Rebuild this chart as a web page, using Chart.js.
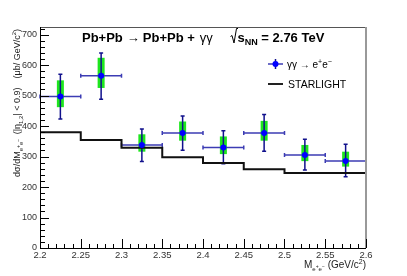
<!DOCTYPE html>
<html>
<head>
<meta charset="utf-8">
<script src="https://cdn.jsdelivr.net/npm/chart.js@4.4.1/dist/chart.umd.min.js"></script>
<style>
  body { margin: 0; background: #fff; }
  canvas { display: block; }
</style>
</head>
<body>
<canvas id="xsChart" width="407" height="276"></canvas>
<script>
// bins of invariant mass (GeV/c^2)
const binEdges = [2.2, 2.25, 2.3, 2.35, 2.4, 2.45, 2.5, 2.55, 2.6];
const massCenters = [2.225, 2.275, 2.325, 2.375, 2.425, 2.475, 2.525, 2.575];
const binHalfWidth = [0.025, 0.025, 0.025, 0.025, 0.025, 0.025, 0.025, 0.025];

// measured cross section (ub / GeV/c^2)
const xsData = [497, 565, 338, 377, 330, 377, 305, 285];
const statUp = [73, 75, 52, 56, 55, 61, 52, 55];
const statDown = [74, 77, 54, 56, 54, 60, 49, 51];
const sysUp = [53, 59, 35, 38, 36, 40, 33, 31];
const sysDown = [35, 40, 22, 25, 22, 25, 20, 18];

// STARLIGHT prediction per bin
const starlight = [410, 380, 354, 329, 298, 279, 258, 246];

const FONT = "'Liberation Sans', Arial, sans-serif";

// draw a list of text pieces one after another (sub/superscripts via dy)
function drawRich(ctx, segs, x, y, align) {
  let total = 0;
  segs.forEach((s) => {
    ctx.font = s.font;
    total += (s.gap || 0) + ctx.measureText(s.t).width;
  });
  let cx = align === "right" ? x - total : x;
  segs.forEach((s) => {
    ctx.font = s.font;
    cx += s.gap || 0;
    ctx.fillText(s.t, cx, y + (s.dy || 0));
    cx += ctx.measureText(s.t).width;
  });
  return total;
}

const rootStyle = {
  id: "rootStyle",
  beforeDatasetsDraw(chart) {
    const { ctx } = chart;
    const x = chart.scales.x;
    const y = chart.scales.y;
    ctx.save();
    // systematic boxes
    ctx.fillStyle = "#1ee61e";
    massCenters.forEach((m, i) => {
      const px = x.getPixelForValue(m);
      const top = y.getPixelForValue(xsData[i] + sysUp[i]);
      const bot = y.getPixelForValue(xsData[i] - sysDown[i]);
      ctx.fillRect(px - 3.5, top, 7, bot - top);
    });
    // horizontal bin width bars
    ctx.strokeStyle = "#3c3cb4";
    ctx.lineWidth = 1.5;
    massCenters.forEach((m, i) => {
      const py = y.getPixelForValue(xsData[i]);
      const l = x.getPixelForValue(m - binHalfWidth[i]);
      const r = x.getPixelForValue(m + binHalfWidth[i]);
      ctx.beginPath();
      ctx.moveTo(l, py); ctx.lineTo(r, py);
      ctx.moveTo(l, py - 2); ctx.lineTo(l, py + 2);
      ctx.moveTo(r, py - 2); ctx.lineTo(r, py + 2);
      ctx.stroke();
    });
    // statistical errors
    ctx.strokeStyle = "#10108c";
    massCenters.forEach((m, i) => {
      const px = x.getPixelForValue(m);
      const top = y.getPixelForValue(xsData[i] + statUp[i]);
      const bot = y.getPixelForValue(xsData[i] - statDown[i]);
      ctx.beginPath();
      ctx.moveTo(px, top); ctx.lineTo(px, bot);
      ctx.moveTo(px - 2, top); ctx.lineTo(px + 2, top);
      ctx.moveTo(px - 2, bot); ctx.lineTo(px + 2, bot);
      ctx.stroke();
    });
    ctx.restore();
  },
  afterDraw(chart) {
    const { ctx, chartArea: a } = chart;
    const x = chart.scales.x;
    const y = chart.scales.y;
    ctx.save();
    // frame
    ctx.strokeStyle = "#555";
    ctx.lineWidth = 1;
    ctx.beginPath();
    ctx.moveTo(a.left, a.top + 0.5); ctx.lineTo(a.right, a.top + 0.5);
    ctx.stroke();
    ctx.strokeStyle = "#999";
    ctx.lineWidth = 2;
    ctx.beginPath();
    ctx.moveTo(a.right, a.top); ctx.lineTo(a.right, a.bottom);
    ctx.stroke();
    ctx.strokeStyle = "#000";
    ctx.lineWidth = 1;
    ctx.beginPath();
    ctx.moveTo(a.left + 0.5, a.top); ctx.lineTo(a.left + 0.5, a.bottom);
    ctx.moveTo(a.left, a.bottom + 0.5); ctx.lineTo(a.right, a.bottom + 0.5);
    // y ticks, inside
    for (let v = 0; v <= y.max; v += 20) {
      const py = Math.round(y.getPixelForValue(v)) + 0.5;
      const len = v % 100 === 0 ? 9 : 5;
      ctx.moveTo(a.left, py); ctx.lineTo(a.left + len, py);
    }
    // x ticks, inside
    for (let k = 0; k <= 40; k++) {
      const px = Math.round(x.getPixelForValue(2.2 + k * 0.01)) + 0.5;
      const len = k % 5 === 0 ? 9 : 4;
      ctx.moveTo(px, a.bottom); ctx.lineTo(px, a.bottom - len);
    }
    ctx.stroke();

    ctx.fillStyle = "#000";
    ctx.textBaseline = "alphabetic";
    // title
    const b13 = "bold 13px " + FONT;
    const n13 = "13px " + FONT;
    drawRich(ctx, [
      { t: "Pb+Pb", font: b13 },
      { t: "\u2192", font: n13, gap: 4 },
      { t: "Pb+Pb +", font: b13, gap: 3 },
      { t: "\u03b3\u03b3", font: n13, gap: 5 },
    ], 82, 42);
    // sqrt(s_NN)
    ctx.strokeStyle = "#000";
    ctx.lineWidth = 1;
    ctx.beginPath();
    ctx.moveTo(230.5, 36.5); ctx.lineTo(232, 35.5); ctx.lineTo(234, 43);
    ctx.lineTo(236.5, 28.5); ctx.lineTo(238, 28.5);
    ctx.stroke();
    drawRich(ctx, [
      { t: "s", font: b13 },
      { t: "NN", font: "bold 9px " + FONT, dy: 3 },
      { t: " = 2.76 TeV", font: b13 },
    ], 237.5, 42);

    // legend
    const lx = 268, lr = 283;
    ctx.strokeStyle = "#3c3cb4";
    ctx.lineWidth = 1.5;
    ctx.beginPath();
    ctx.moveTo(lx, 64); ctx.lineTo(lr, 64);
    ctx.stroke();
    ctx.strokeStyle = "#10108c";
    ctx.beginPath();
    ctx.moveTo(275.5, 59); ctx.lineTo(275.5, 69);
    ctx.stroke();
    ctx.fillStyle = "#0000ff";
    ctx.beginPath();
    ctx.arc(275.5, 64, 3, 0, Math.PI * 2);
    ctx.fill();
    ctx.fillStyle = "#000";
    drawRich(ctx, [
      { t: "\u03b3\u03b3 \u2192 e", font: "10px " + FONT },
      { t: "+", font: "7px " + FONT, dy: -4 },
      { t: "e", font: "10px " + FONT },
      { t: "\u2212", font: "7px " + FONT, dy: -4 },
    ], 287, 68);
    ctx.strokeStyle = "#222";
    ctx.lineWidth = 2;
    ctx.beginPath();
    ctx.moveTo(lx, 84); ctx.lineTo(lr, 84);
    ctx.stroke();
    ctx.font = "10.5px " + FONT;
    ctx.fillText("STARLIGHT", 288, 88);

    // axis titles
    ctx.fillStyle = "#222";
    const s9 = "9px " + FONT;
    const s6 = "6px " + FONT;
    drawRich(ctx, [
      { t: "M", font: "10px " + FONT },
      { t: "e", font: s6, dy: 3 },
      { t: "+", font: "5px " + FONT, dy: 0 },
      { t: "e", font: s6, dy: 3 },
      { t: "\u2212", font: "5px " + FONT, dy: 0 },
      { t: " (GeV/c", font: "10px " + FONT },
      { t: "2", font: "7px " + FONT, dy: -4 },
      { t: ")", font: "10px " + FONT },
    ], 366, 268, "right");

    ctx.translate(20, 29);
    ctx.rotate(-Math.PI / 2);
    drawRich(ctx, [
      { t: "d\u03c3/dM", font: s9 },
      { t: "e", font: s6, dy: 3 },
      { t: "+", font: "5px " + FONT, dy: 0 },
      { t: "e", font: s6, dy: 3 },
      { t: "\u2212", font: "5px " + FONT, dy: 0 },
      { t: " (|\u03b7", font: s9, gap: 2 },
      { t: "1,2", font: s6, dy: 3 },
      { t: "| < 0.9)", font: s9 },
      { t: "(\u03bcb/ GeV/c", font: s9, gap: 9 },
      { t: "2", font: s6, dy: -4 },
      { t: ")", font: s9 },
    ], 0, 0, "right");
    ctx.restore();
  },
};

new Chart(document.getElementById("xsChart"), {
  type: "scatter",
  data: {
    datasets: [
      {
        label: "\u03b3\u03b3 \u2192 e+e-",
        data: massCenters.map((m, i) => ({ x: m, y: xsData[i] })),
        pointRadius: 3,
        pointBackgroundColor: "#0000ff",
        pointBorderColor: "#0000ff",
        pointBorderWidth: 0,
        showLine: false,
      },
      {
        label: "STARLIGHT",
        type: "line",
        data: binEdges.map((e, i) => ({ x: e, y: starlight[Math.min(i, starlight.length - 1)] })),
        stepped: "after",
        borderColor: "#111",
        borderWidth: 2,
        pointRadius: 0,
        fill: false,
      },
    ],
  },
  options: {
    responsive: false,
    animation: false,
    events: [],
    layout: { padding: { top: 27, right: 41, left: 0, bottom: 0 } },
    plugins: { legend: { display: false }, tooltip: { enabled: false }, title: { display: false } },
    scales: {
      x: {
        type: "linear",
        min: 2.2,
        max: 2.6,
        grid: { display: false, drawTicks: false },
        border: { display: false },
        ticks: {
          stepSize: 0.05,
          autoSkip: false,
          maxRotation: 0,
          padding: 2,
          color: "#333",
          font: { family: FONT, size: 9.5 },
          callback: (v) => String(+v.toFixed(2)),
        },
        afterFit: (s) => { s.height = 28; },
      },
      y: {
        min: 0,
        max: 725,
        grid: { display: false, drawTicks: false },
        border: { display: false },
        ticks: {
          stepSize: 100,
          includeBounds: false,
          autoSkip: false,
          padding: 3,
          color: "#333",
          font: { family: FONT, size: 9 },
        },
        afterBuildTicks: (s) => { s.ticks = s.ticks.filter((t) => t.value % 100 === 0); },
        afterFit: (s) => { s.width = 40; },
      },
    },
  },
  plugins: [rootStyle],
});
</script>
</body>
</html>
